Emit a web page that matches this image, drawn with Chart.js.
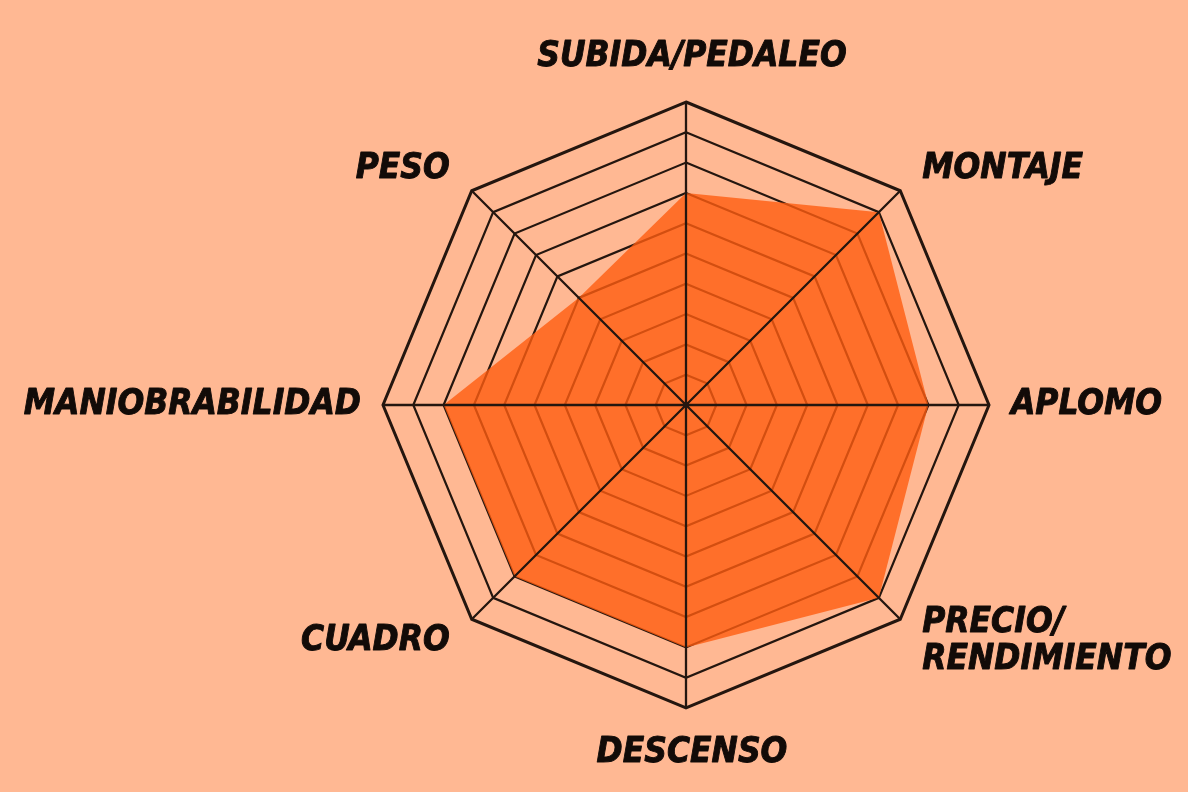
<!DOCTYPE html>
<html>
<head>
<meta charset="utf-8">
<script src="https://cdn.jsdelivr.net/npm/chart.js@4/dist/chart.umd.min.js"></script>
<style>
  html, body { margin: 0; padding: 0; background: #ffb893; }
  #wrap { width: 1188px; height: 792px; }
</style>
</head>
<body>
<div id="wrap"><canvas id="radar"></canvas></div>
<script>
// ejes del radar, empezando arriba y en sentido horario
const ejes = [
  "SUBIDA/PEDALEO",
  "MONTAJE",
  "APLOMO",
  ["PRECIO/", "RENDIMIENTO"],
  "DESCENSO",
  "CUADRO",
  "MANIOBRABILIDAD",
  "PESO"
];
const valores = [7, 9, 8, 9, 8, 8, 8, 5];
const escalaMin = 0;
const escalaMax = 10;

const colorLinea = "#24160f";
const fuente = 'italic bold 35px "Liberation Sans Narrow", "DejaVu Sans Condensed", Roboto, sans-serif';

// las lineas radiales van por encima del relleno y las etiquetas se
// colocan junto a cada vertice del octogono exterior
const lineasYEtiquetas = {
  id: "lineasYEtiquetas",
  afterDatasetsDraw(chart) {
    const r = chart.scales.r;
    const ctx = chart.ctx;
    const fin = r.getDistanceFromCenterForValue(r.max);
    ctx.save();
    ctx.strokeStyle = colorLinea;
    ctx.lineWidth = 2.3;
    ctx.beginPath();
    for (let i = 0; i < ejes.length; i++) {
      const p = r.getPointPosition(i, fin);
      ctx.moveTo(r.xCenter, r.yCenter);
      ctx.lineTo(p.x, p.y);
    }
    ctx.stroke();

    ctx.fillStyle = "#120b08";
    ctx.strokeStyle = "#120b08";
    ctx.lineWidth = 0.9;
    ctx.lineJoin = "round";
    ctx.font = fuente;
    ctx.textBaseline = "middle";
    const alto = 37;
    for (let i = 0; i < ejes.length; i++) {
      const p = r.getPointPosition(i, fin);
      const sx = Math.sign(Math.round(p.x - r.xCenter));
      const sy = Math.sign(Math.round(p.y - r.yCenter));
      const x = p.x + sx * 22 + (sx === 0 ? 6 : 0);
      const y = p.y + sy * (sx === 0 ? 45 : 22);
      ctx.textAlign = sx > 0 ? "left" : sx < 0 ? "right" : "center";
      const lineas = [].concat(ejes[i]);
      lineas.forEach((t, k) => {
        const yy = y + (k - (lineas.length - 1) / 2) * alto;
        ctx.fillText(t, x, yy);
        ctx.strokeText(t, x, yy);
      });
    }
    ctx.restore();
  }
};

const ctx = document.getElementById("radar");
new Chart(ctx, {
  type: "radar",
  data: {
    labels: ejes,
    datasets: [{
      data: valores,
      backgroundColor: "rgba(255, 92, 16, 0.8)",
      borderWidth: 0,
      pointRadius: 0,
      fill: true
    }]
  },
  options: {
    responsive: true,
    maintainAspectRatio: false,
    animation: false,
    layout: { padding: { top: 102, bottom: 84, left: 383, right: 199 } },
    plugins: { legend: { display: false }, tooltip: { enabled: false } },
    scales: {
      r: {
        min: escalaMin,
        max: escalaMax,
        ticks: { stepSize: 1, display: false },
        angleLines: { display: false },
        pointLabels: { display: false },
        grid: {
          color: colorLinea,
          lineWidth: (c) => (c.tick && c.tick.value === escalaMax ? 3 : 2.2)
        }
      }
    }
  },
  plugins: [lineasYEtiquetas]
});
</script>
</body>
</html>
